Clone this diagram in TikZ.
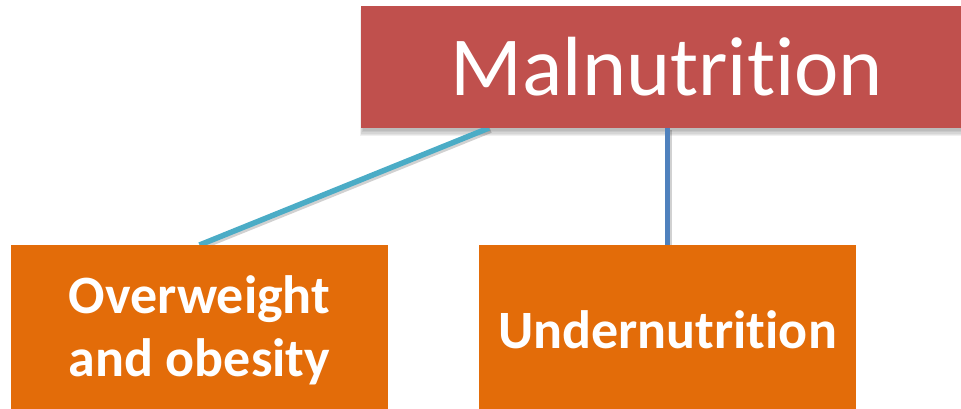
\documentclass[tikz,border=0pt]{standalone}
\usepackage{fontspec}
\setmainfont{Carlito}[Ligatures={NoCommon,NoContextual}]
\usetikzlibrary{calc,backgrounds}
\definecolor{malred}{HTML}{C0504D}
\definecolor{suborange}{HTML}{E36C09}
\definecolor{linkteal}{HTML}{4BACC6}
\definecolor{linkblue}{HTML}{4F81BD}
\begin{document}
\begin{tikzpicture}[x=1pt,y=-1pt,
  topbox/.style={fill=malred, inner sep=0pt, outer sep=0pt, anchor=north west,
    minimum width=612pt, minimum height=122pt},
  subbox/.style={fill=suborange, inner sep=0pt, outer sep=0pt, anchor=north west,
    minimum width=377pt, minimum height=170pt, text=white, align=center,
    font=\fontsize{54}{63}\selectfont\bfseries},
  toptext/.style={anchor=base, text=white, inner sep=0pt, font=\fontsize{84}{84}\selectfont},
  link/.style={line width=5.5pt},
  linkshadow/.style={line width=6pt, black, opacity=0.18},
]
\useasboundingbox (0,0) rectangle (961,408);
\node[topbox] (mal) at (361,6) {};
\node[toptext] (maltext) at (667,95) {Malnutrition};
\node[subbox] (over) at (11,245) {Overweight\\and obesity};
\node[subbox] (under) at (479,245) {Undernutrition};
\coordinate (tealtop) at ($(mal.south west)+(128,0)$);
\coordinate (bluetop) at (under.north |- mal.south);
\begin{scope}[on background layer]
  \foreach \i in {0,1,2,3,4}
    \fill[black, opacity=0.06]
      ($(mal.north west)+(2-0.8*\i,4)$) rectangle ($(mal.south east)+(2+0.8*\i,3+1.3*\i)$);
  \draw[linkshadow] ($(tealtop)+(1.5,2)$) -- ($(over.north)+(1.5,2)$);
  \draw[linkshadow] ($(bluetop)+(1.5,2)$) -- ($(under.north)+(1.5,2)$);
  \draw[link, linkteal] (tealtop) -- (over.north);
  \draw[link, linkblue] (bluetop) -- (under.north);
\end{scope}
\end{tikzpicture}
\end{document}
